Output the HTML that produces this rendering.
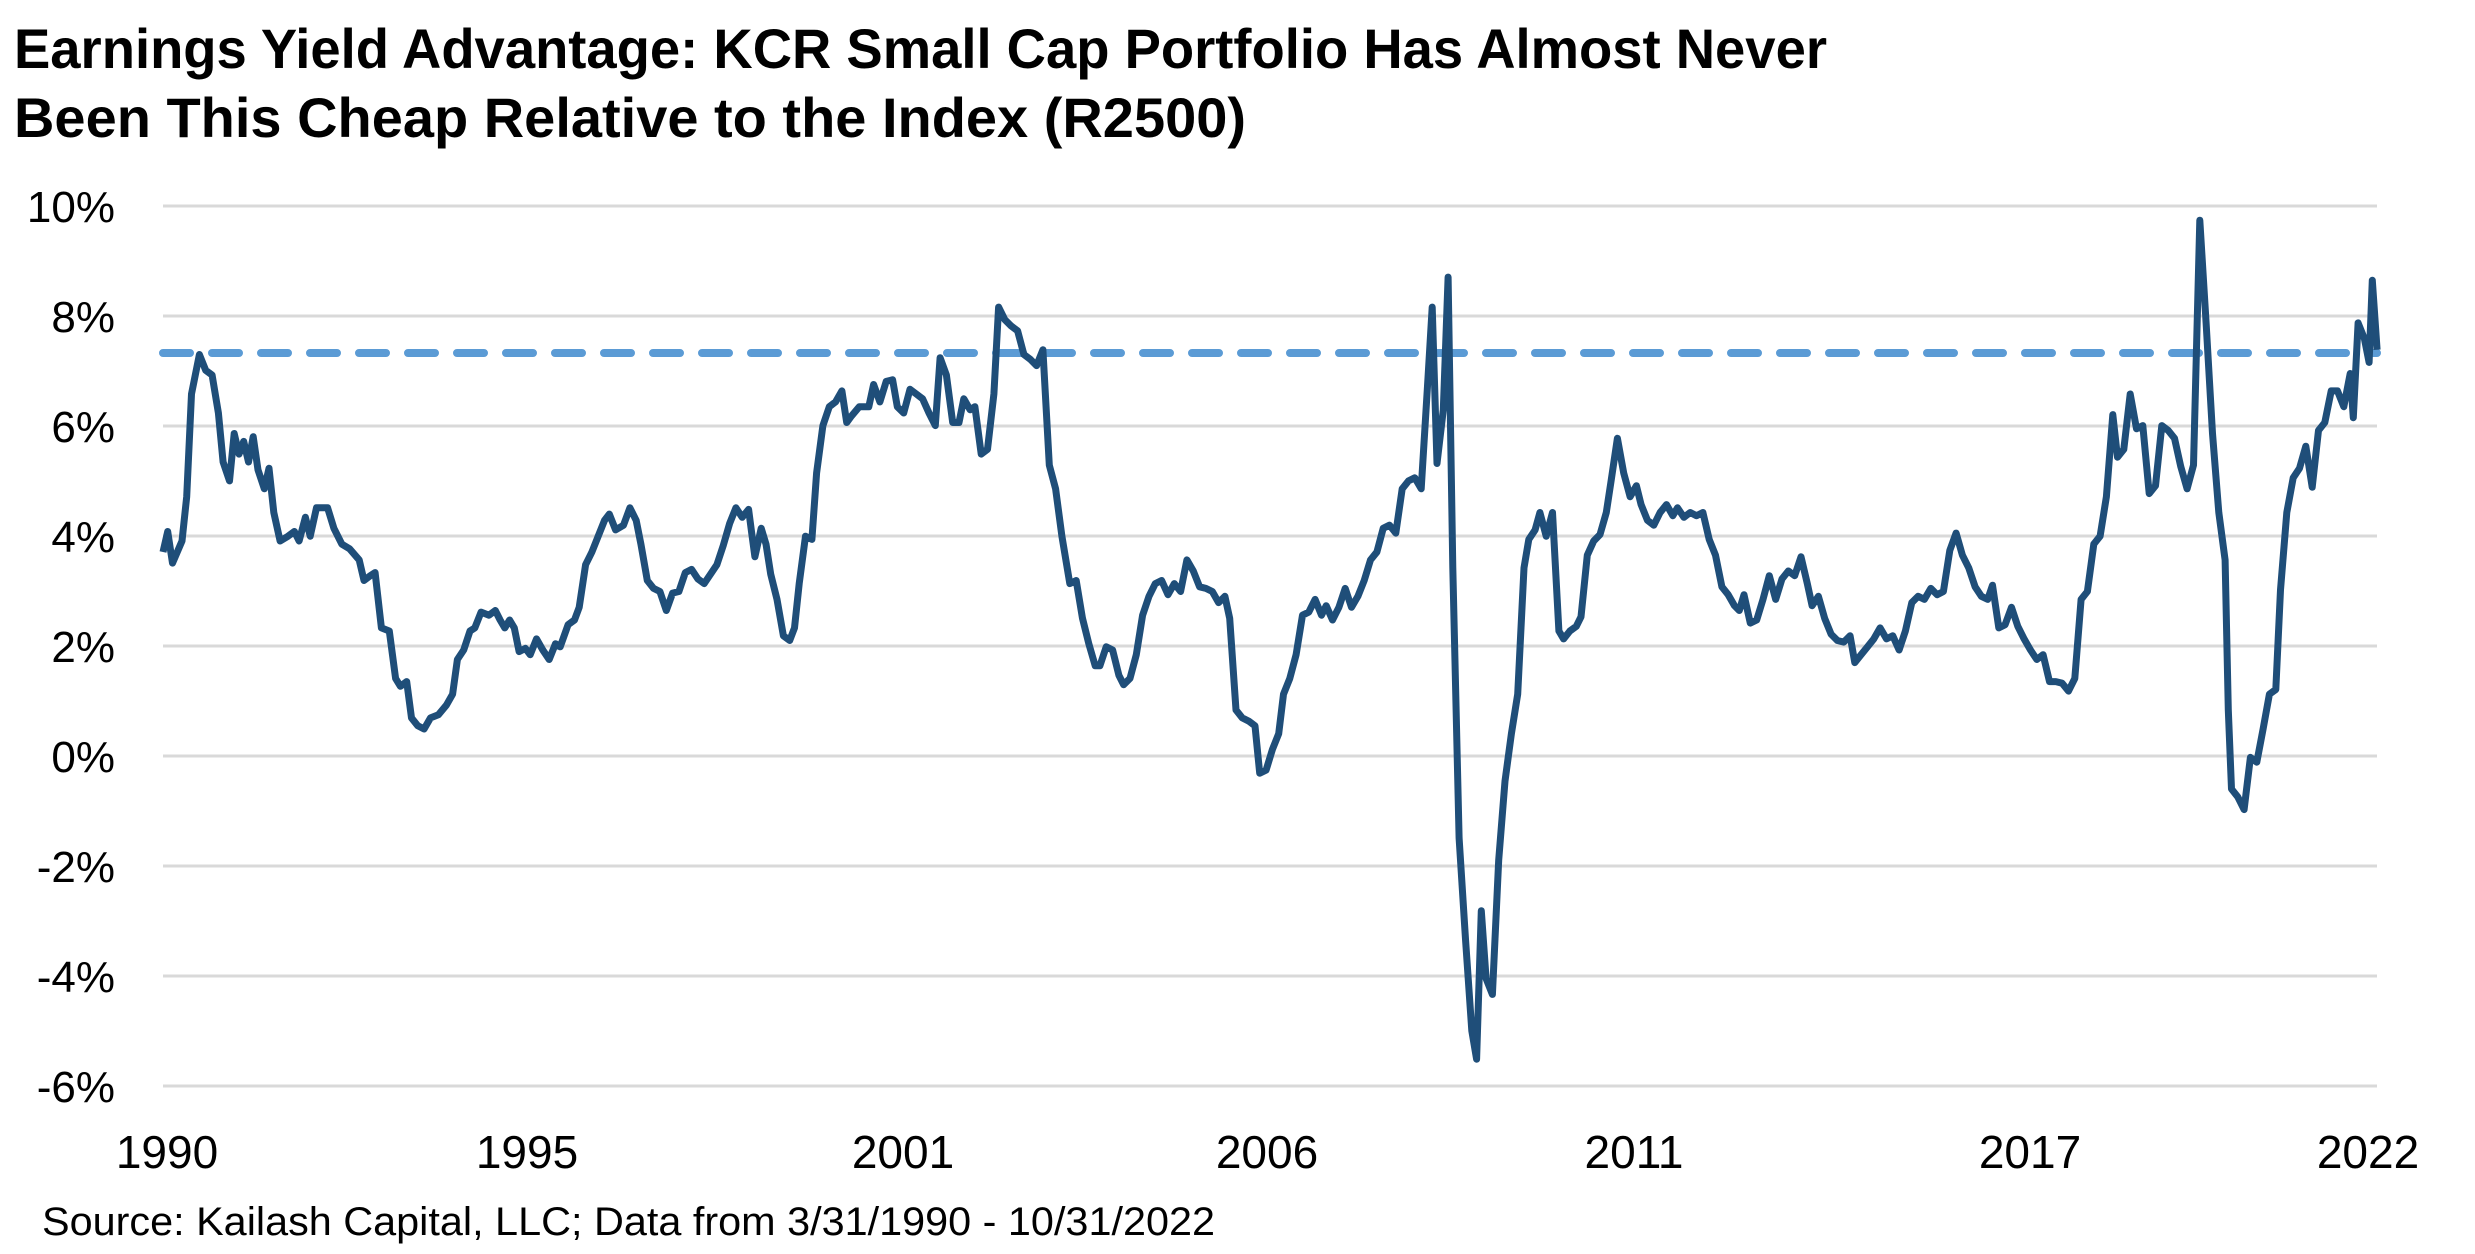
<!DOCTYPE html>
<html><head><meta charset="utf-8"><style>
html,body{margin:0;padding:0;background:#fff;}
svg{display:block;}
</style></head><body>
<svg id="s" width="2475" height="1254" xmlns="http://www.w3.org/2000/svg" font-family="Liberation Sans, Arial, sans-serif">
<text x="14" y="68" font-size="56" font-weight="bold" textLength="1813" lengthAdjust="spacingAndGlyphs">Earnings Yield Advantage: KCR Small Cap Portfolio Has Almost Never</text>
<text x="14" y="137" font-size="56" font-weight="bold" textLength="1232" lengthAdjust="spacingAndGlyphs">Been This Cheap Relative to the Index (R2500)</text>
<g id="grid" stroke="#d9d9d9" stroke-width="3"></g>
<g id="ylab" font-size="44" text-anchor="end"></g>
<g font-size="46" text-anchor="middle">
<text x="167" y="1168">1990</text><text x="527" y="1168">1995</text><text x="903" y="1168">2001</text><text x="1267" y="1168">2006</text><text x="1634" y="1168">2011</text><text x="2030" y="1168">2017</text><text x="2368" y="1168">2022</text>
</g>
<line x1="163" y1="353" x2="2377" y2="353" stroke="#5b9bd5" stroke-width="8" stroke-dasharray="27,22" stroke-linecap="round"/>
<polyline id="ln" fill="none" stroke="#1f4e79" stroke-width="7" stroke-linejoin="round"/>
<text x="42" y="1235" font-size="40" textLength="1173" lengthAdjust="spacingAndGlyphs">Source: Kailash Capital, LLC; Data from 3/31/1990 - 10/31/2022</text>
</svg>
<script>
var ns="http://www.w3.org/2000/svg",g=document.getElementById('grid'),yl=document.getElementById('ylab');
for(var k=0;k<=8;k++){var y=206+k*110;var l=document.createElementNS(ns,'line');l.setAttribute('x1',163);l.setAttribute('x2',2377);l.setAttribute('y1',y);l.setAttribute('y2',y);g.appendChild(l);
var t=document.createElementNS(ns,'text');t.setAttribute('x',115);t.setAttribute('y',y+16);t.textContent=(10-2*k)+'%';yl.appendChild(t);}
var d=[106,350,109,337,112,357,118,343,121,315,124,250,129,225,133,235,137,238,141,262,144,293,148,305,151,275,154,288,157,280,160,293,163,277,166,298,170,310,173,297,176,325,180,343,185,340,189,337,192,343,196,328,199,340,203,322,210,322,214,335,219,345,224,348,230,355,233,368,237,365,240,363,244,398,249,400,253,430,256,435,260,432,263,455,267,460,271,462,275,455,280,453,285,447,289,440,292,418,296,412,300,400,303,398,307,388,312,390,316,387,319,393,322,398,325,393,328,398,331,413,335,411,338,415,342,405,346,412,350,418,354,408,357,410,362,396,366,393,369,385,373,358,377,350,381,340,385,330,388,326,392,336,397,333,401,322,405,330,408,345,412,368,416,373,420,375,424,387,428,376,432,375,436,363,440,361,444,367,448,370,452,364,456,358,460,346,464,332,468,322,472,328,476,323,478,338,480,353,484,335,487,345,490,364,494,380,498,403,502,406,505,398,508,370,512,340,516,342,519,300,523,270,527,258,531,255,535,248,538,268,541,264,546,258,552,258,555,244,559,255,563,242,567,241,570,258,574,262,578,247,582,250,586,253,590,262,594,270,597,227,601,238,605,268,609,268,612,253,616,260,619,258,623,288,627,285,631,250,634,195,638,203,642,207,646,210,650,225,654,228,658,232,662,222,666,295,670,310,674,340,679,370,683,368,687,392,691,408,695,422,698,422,702,410,706,412,710,428,713,434,717,430,721,415,725,390,729,378,733,370,737,368,741,377,745,370,749,375,753,355,757,362,761,372,765,373,769,375,773,382,777,378,780,392,784,450,788,455,792,457,796,460,799,490,803,488,807,475,811,465,814,440,818,430,822,415,826,390,830,388,834,380,838,390,841,384,845,393,849,385,853,373,857,385,861,378,865,368,869,355,873,350,877,335,881,333,885,338,889,310,893,305,897,303,901,310,905,245,908,195,911,294,915,260,918,176,921,360,925,531,929,595,933,653,936,671,939,577,942,620,946,630,950,545,954,495,958,465,962,440,966,360,969,342,973,336,976,325,980,340,984,325,988,400,991,405,995,400,999,397,1002,391,1006,352,1010,343,1014,339,1018,325,1021,305,1025,278,1029,300,1033,315,1037,308,1040,320,1044,330,1048,333,1052,325,1056,320,1060,327,1063,322,1067,328,1071,325,1075,327,1079,325,1083,342,1087,352,1091,372,1095,377,1099,384,1102,387,1105,377,1109,395,1113,393,1117,380,1121,365,1125,380,1129,367,1133,362,1137,365,1141,353,1145,370,1148,384,1152,378,1156,392,1160,402,1164,406,1168,407,1172,403,1175,420,1179,415,1183,410,1187,405,1191,398,1195,405,1199,403,1203,412,1207,400,1211,382,1215,378,1219,380,1223,373,1227,377,1231,375,1235,349,1239,338,1243,352,1247,360,1251,372,1255,378,1259,380,1262,371,1266,398,1270,396,1274,385,1278,397,1282,405,1286,412,1290,418,1294,415,1298,432,1302,432,1306,433,1310,438,1314,430,1318,380,1322,375,1326,345,1330,340,1334,315,1338,263,1341,290,1345,285,1349,250,1353,272,1357,270,1361,313,1365,308,1369,270,1373,273,1377,278,1381,296,1385,310,1389,295,1393,140,1397,205,1401,275,1405,325,1409,355,1411,450,1413,500,1417,505,1421,513,1425,480,1429,483,1433,462,1437,440,1441,437,1444,374,1448,325,1452,303,1456,297,1460,283,1464,309,1468,273,1472,268,1476,248,1480,248,1484,258,1488,237,1490,265,1493,205,1497,215,1500,230,1502,178,1505,222];
var p=[];for(var i=0;i<d.length;i+=2){p.push((163+(d[i]-106)*1.5826).toFixed(1)+','+(206+(d[i+1]-131)*1.58).toFixed(1));}
document.getElementById('ln').setAttribute('points',p.join(' '));
</script>
</body></html>
